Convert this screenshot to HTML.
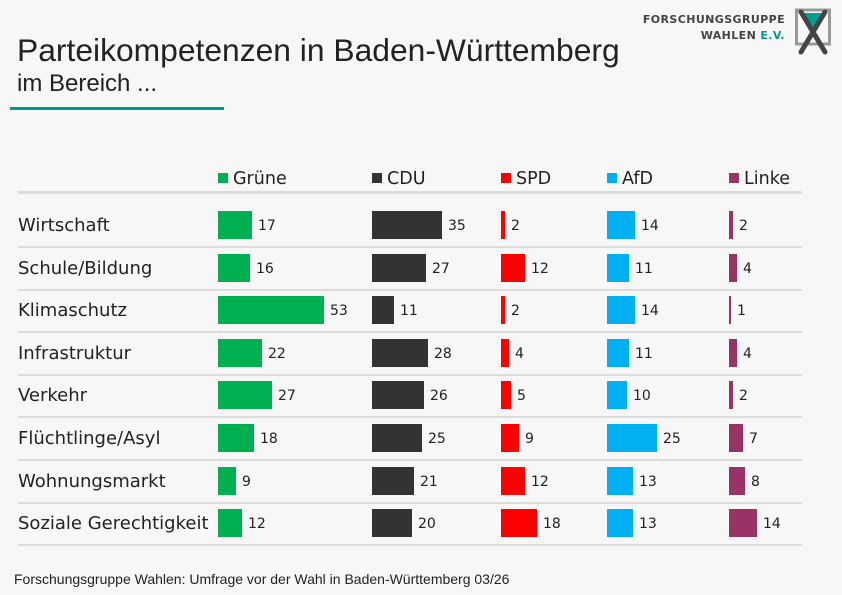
<!DOCTYPE html>
<html><head><meta charset="utf-8"><style>
body{margin:0;background:#f7f7f7;}
#c{position:relative;width:842px;height:595px;background:#f7f7f7;font-family:"DejaVu Sans","Liberation Sans",sans-serif;color:#222;overflow:hidden}
.a{position:absolute;white-space:nowrap}
.t{font-family:"Liberation Sans",sans-serif}
.bar{position:absolute;height:28px}
.v{position:absolute;font-size:14px;line-height:16px}
.lbl{position:absolute;left:18px;font-size:18px;line-height:20px}
.ln{position:absolute;left:18px;width:784px;height:2px;background:#dcdcdc}
.lg{position:absolute;top:169px;font-size:17.5px;line-height:20px}
.lg i{display:inline-block;width:10px;height:10px;margin-right:5px;vertical-align:1px}
.logo{position:absolute;right:57px;font-size:11px;font-weight:bold;color:#444;letter-spacing:0.4px;text-align:right}
</style></head><body><div id="c">
<div class="a t" style="left:17px;top:32px;font-size:31.8px;line-height:36px">Parteikompetenzen in Baden-Württemberg</div>
<div class="a t" style="left:17px;top:70px;font-size:24px;line-height:28px">im Bereich ...</div>
<div class="a" style="left:10px;top:107px;width:214px;height:3px;background:#00998a"></div>
<div class="logo" style="top:13px">FORSCHUNGSGRUPPE</div>
<div class="logo" style="top:29px">WAHLEN <span style="color:#00998a">E.V.</span></div>
<svg class="a" style="left:795px;top:8px" width="40" height="48"><rect x="1.5" y="2" width="33" height="34" fill="none" stroke="#999" stroke-width="3"/><polygon points="4,5 32,5 18,20" fill="#00a090"/><path d="M6 4 L30 44 M30 4 L6 44" stroke="#444" stroke-width="5" stroke-linecap="round"/></svg>
<div class="lg" style="left:218px"><i style="background:#00b050"></i>Grüne</div>
<div class="lg" style="left:372px"><i style="background:#333"></i>CDU</div>
<div class="lg" style="left:501px"><i style="background:#ff0000"></i>SPD</div>
<div class="lg" style="left:607px"><i style="background:#00b0f0"></i>AfD</div>
<div class="lg" style="left:729px"><i style="background:#993366"></i>Linke</div>
<div class="ln" style="top:191px;height:3px"></div>
<div id="rows"></div>
<div class="a t" style="left:14px;top:571px;font-size:14px">Forschungsgruppe Wahlen: Umfrage vor der Wahl in Baden-Württemberg 03/26</div>
</div>
<script>
var d=[["Wirtschaft",17,35,2,14,2],["Schule/Bildung",16,27,12,11,4],["Klimaschutz",53,11,2,14,1],["Infrastruktur",22,28,4,11,4],["Verkehr",27,26,5,10,2],["Flüchtlinge/Asyl",18,25,9,25,7],["Wohnungsmarkt",9,21,12,13,8],["Soziale Gerechtigkeit",12,20,18,13,14]];
var xs=[218,372,501,607,729],cs=["#00b050","#333","#ff0000","#00b0f0","#993366"],h="";
d.forEach(function(r,i){var cy=225+i*42.6;
h+='<div class="lbl" style="top:'+(cy-9)+'px">'+r[0]+'</div>';
for(var j=0;j<5;j++){var w=r[j+1]*2;h+='<div class="bar" style="left:'+xs[j]+'px;top:'+(cy-14)+'px;width:'+w+'px;background:'+cs[j]+'"></div><div class="v" style="left:'+(xs[j]+w+6)+'px;top:'+(cy-7)+'px">'+r[j+1]+'</div>';}
h+='<div class="ln" style="top:'+(cy+21)+'px"></div>';});
document.getElementById("rows").outerHTML=h;
</script>
</body></html>
